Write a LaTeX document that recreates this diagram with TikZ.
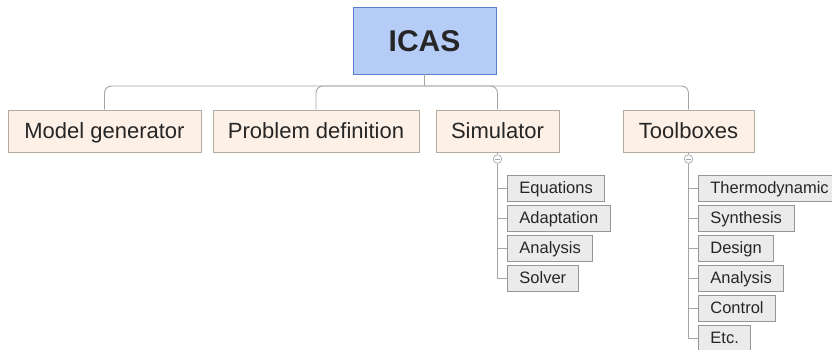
\documentclass[tikz,border=0pt]{standalone}
\usepackage{fontspec}
\setmainfont{Liberation Sans}
\usetikzlibrary{positioning}
\definecolor{icasblue}{RGB}{181,204,246}
\definecolor{icasedge}{RGB}{90,125,205}
\definecolor{peach}{RGB}{253,240,230}
\definecolor{peachedge}{RGB}{180,170,160}
\definecolor{subgray}{RGB}{235,235,235}
\definecolor{subedge}{RGB}{150,150,150}
\definecolor{linkgray}{RGB}{165,165,165}

\begin{document}
\begin{tikzpicture}[x=1pt, y=-1pt,
    root/.style={draw=icasedge, fill=icasblue, line width=0.8pt, minimum width=143pt,
                 minimum height=67pt, text height=21.6pt, text depth=0pt,
                 font=\fontsize{30}{35}\selectfont\bfseries, text=black!85},
    top/.style={draw=peachedge, fill=peach, line width=0.8pt, minimum height=42pt,
                inner xsep=0pt, text height=15.8pt, text depth=0pt,
                font=\fontsize{22}{26}\selectfont, text=black!85},
    sub/.style={draw=subedge, fill=subgray, line width=0.8pt, minimum height=26pt,
                inner xsep=12pt, anchor=west, text height=11.9pt, text depth=0pt,
                font=\fontsize{16.5}{20}\selectfont, text=black!85},
    link/.style={draw=linkgray, line width=0.9pt, rounded corners=7pt},
    stub/.style={draw=linkgray, line width=0.9pt},
    fold/.style={circle, draw=linkgray, fill=white, line width=0.7pt, inner sep=0pt, minimum size=8.5pt}
  ]
  \useasboundingbox (0,0) rectangle (832,350);

  % Root
  \node[root] (icas) at (424.5,40.5) {ICAS};
  \coordinate (hub) at (icas.south |- 0,86);
  \draw[stub] (icas.south) -- (hub);

  % Main modules
  \node[top, minimum width=193pt] (model) at (104.5,131) {Model generator};
  \node[top, minimum width=206pt] (problem) at (316,131) {Problem definition};
  \node[top, minimum width=123pt] (sim) at (497.5,131) {Simulator};
  \node[top, minimum width=131pt] (tool) at (688.5,131) {Toolboxes};

  \draw[link] (hub) -| (model.north);
  \draw[link] (hub) -| (problem.north);
  \draw[link] (hub) -| (sim.north);
  \draw[link] (hub) -| (tool.north);

  % Simulator parts
  \node[fold] (simfold) at (sim.south |- 0,159) {};
  \draw[linkgray, line width=0.7pt] ([xshift=-2.4pt]simfold.center) -- ([xshift=2.4pt]simfold.center);
  \draw[stub] (sim.south) -- (simfold.north);

  \node[sub] (eq) at (507,188) {Equations};
  \node[sub] (adapt) at (507,218) {Adaptation};
  \node[sub] (simana) at (507,248) {Analysis};
  \node[sub] (solver) at (507,278) {Solver};
  \foreach \n in {eq,adapt,simana,solver}
    \draw[stub] (simfold.south) |- (\n.west);

  % Toolboxes parts
  \node[fold] (toolfold) at (tool.south |- 0,159) {};
  \draw[linkgray, line width=0.7pt] ([xshift=-2.4pt]toolfold.center) -- ([xshift=2.4pt]toolfold.center);
  \draw[stub] (tool.south) -- (toolfold.north);

  \node[sub] (thermo) at (698,188) {Thermodynamic};
  \node[sub] (synth) at (698,218) {Synthesis};
  \node[sub] (design) at (698,248) {Design};
  \node[sub] (toolana) at (698,278) {Analysis};
  \node[sub] (control) at (698,308) {Control};
  \node[sub] (etc) at (698,338) {Etc.};
  \foreach \n in {thermo,synth,design,toolana,control,etc}
    \draw[stub] (toolfold.south) |- (\n.west);
\end{tikzpicture}
\end{document}
